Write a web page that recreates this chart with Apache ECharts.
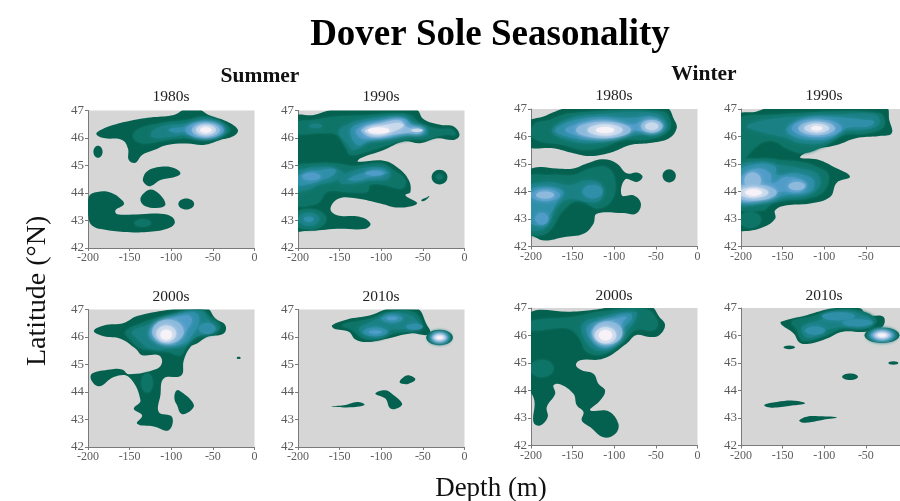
<!DOCTYPE html>
<html><head><meta charset="utf-8">
<style>html,body{margin:0;padding:0;background:#fff}#c{width:900px;height:501px;filter:blur(0.5px)}</style>
<script src="https://cdn.jsdelivr.net/npm/echarts@6/dist/echarts.min.js"></script>
</head><body><div id="c"></div>
<script>
// Contour shapes.
// [level, [x,y], [x,y], ...] is a contour polygon; [level, cx, cy, rx, ry] is a closed oval contour (depth m, latitude).
const depthTicks = [-200,-150,-100,-50,0];
const latitudeTicks = [42,43,44,45,46,47];
const levelColors = ['#05614f','#0f7468','#1a8084','#2f8fa8','#4f9cc8','#8cb9dc','#c8d9ec','#f7f2f8'];

const summer1980s = [
[1,[-190,46.15],[-183,46.32],[-169,46.48],[-149,46.63],[-121,46.76],[-97,46.84],[-83,47.05],[-67,47.05],[-55,46.84],[-33,46.6],[-20,46.3],[-25,46.07],[-41,45.93],[-61,45.75],[-81,45.8],[-105,45.75],[-121,45.56],[-135,45.38],[-143,45.1],[-151,45.2],[-152,45.62],[-159,45.93],[-181,46]],
[1,-188,45.5,5.5,.22],
[1,[-134,44.53],[-128,44.81],[-110,44.96],[-96,44.9],[-89,44.71],[-97,44.57],[-113,44.47],[-125,44.25],[-132,44.35]],
[1,[-125,44.13],[-115,43.98],[-107,43.59],[-115,43.46],[-131,43.52],[-137,43.74],[-134,43.96]],
[1,-82,43.6,9.5,.2],
[1,[-199,43.86],[-189,44.04],[-173,44.02],[-159,43.74],[-157,43.58],[-167,43.37],[-165,43.23],[-137,43.23],[-113,43.25],[-99,43.13],[-96,42.89],[-105,42.7],[-129,42.58],[-157,42.58],[-181,42.67],[-193,42.77],[-199,43.03]],
[2,-134.4,42.91,10,.14],
[2,[-146,46.11],[-137,46.36],[-113,46.54],[-81,46.66],[-61,46.78],[-37,46.54],[-29,46.27],[-41,46.05],[-61,45.93],[-81,45.98],[-105,45.93],[-129,45.8],[-141,45.87]],
[3,[-123,46.23],[-109,46.45],[-81,46.54],[-57,46.66],[-37,46.44],[-35,46.2],[-53,46.03],[-77,46.11],[-105,46.03],[-123,46.03]],
[4,[-103,46.32],[-77,46.44],[-57,46.56],[-41,46.44],[-38,46.23],[-57,46.08],[-77,46.23],[-97,46.2]],
[5,-60,46.29,23,.3],[6,-58.4,46.29,17,.24],[7,-58.4,46.29,12,.17],[8,-58.4,46.29,7,.1]
];
const summer1990s = [
[1,[-205,46.72],[-181,46.84],[-153,47.05],[-59,47.05],[-49,46.68],[-29,46.48],[-13,46.42],[-6,46.11],[-13,45.93],[-33,45.99],[-53,45.81],[-73,45.87],[-97,45.56],[-125,45.26],[-128,45.14],[-97,45.17],[-79,44.89],[-67,44.47],[-65,44.04],[-71,43.92],[-57,43.62],[-79,43.47],[-101,43.62],[-129,43.8],[-151,43.8],[-161,43.43],[-153,43.19],[-125,43.13],[-113,42.89],[-119,42.7],[-153,42.7],[-189,42.62],[-205,42.7]],
[1,-30,44.58,9.5,.27],
[1,[-52,43.75],[-45,43.85],[-42,43.9],[-45,43.78],[-50,43.7]],
[2,-30,44.58,4,.1],
[2,[-205,46.54],[-181,46.66],[-153,46.78],[-113,46.84],[-81,46.9],[-65,46.84],[-53,46.54],[-33,46.35],[-15,46.32],[-11,46.11],[-25,46.11],[-45,45.95],[-65,45.93],[-85,45.81],[-117,45.5],[-137,45.38],[-143,45.66],[-153,46.11],[-173,46.17],[-205,46.17]],
[2,[-205,44.89],[-177,45.08],[-155,45.08],[-133,44.98],[-101,45.08],[-85,44.83],[-71,44.47],[-75,44.16],[-97,44.29],[-113,44.29],[-117,44.04],[-145,44.04],[-165,44.04],[-177,43.62],[-205,43.62]],
[2,-187,43.05,21,.38],
[3,-187,43.05,13,.25],[4,-187,43.05,6,.1],
[3,-179,46.44,8,.08],
[3,[-151,46.23],[-137,46.54],[-113,46.72],[-77,46.78],[-61,46.54],[-45,46.35],[-45,46.11],[-65,46.11],[-85,45.99],[-113,45.87],[-133,45.56],[-141,45.8]],
[3,[-205,44.7],[-190,44.9],[-172,44.95],[-156,44.9],[-145,44.7],[-155,44.45],[-175,44.3],[-190,44.1],[-205,44.1]],
[3,[-150,44.55],[-130,44.85],[-105,44.95],[-90,44.8],[-92,44.5],[-115,44.45],[-135,44.35],[-148,44.35]],
[4,[-203,44.55],[-190,44.75],[-170,44.85],[-155,44.85],[-158,44.65],[-175,44.45],[-190,44.3],[-203,44.3]],
[4,[-140,44.5],[-120,44.75],[-100,44.85],[-92,44.72],[-110,44.6],[-130,44.45]],
[5,-184,44.6,11,.14],[5,-108,44.72,11,.09],
[4,[-137,46.29],[-125,46.54],[-97,46.66],[-73,46.72],[-63,46.48],[-47,46.32],[-51,46.15],[-69,46.15],[-89,46.03],[-113,45.93],[-129,45.75]],
[5,[-130,46.3],[-105,46.58],[-73,46.7],[-62,46.42],[-49,46.29],[-55,46.15],[-73,46.18],[-93,46.02],[-113,45.98],[-125,46]],
[6,[-124,46.3],[-101,46.54],[-77,46.64],[-69,46.4],[-53,46.27],[-65,46.2],[-91,46.1],[-113,46.05]],
[7,[-120,46.27],[-100,46.44],[-80,46.55],[-73,46.45],[-90,46.2],[-108,46.12]],
[7,-57,46.28,7,.07],
[8,-103,46.27,13,.11]
];
const summer2000s = [
[1,[-193,46.22],[-181,46.42],[-157,46.51],[-141,46.76],[-105,46.98],[-85,47.05],[-57,47.05],[-47,46.67],[-35,46.43],[-37,46.13],[-57,46],[-69,45.76],[-77,45.64],[-85,45.15],[-88,44.6],[-109,44.49],[-113,43.88],[-115,43.27],[-99,43.09],[-103,42.61],[-121,42.75],[-141,42.85],[-135,43.15],[-145,43.39],[-137,43.7],[-151,44.55],[-169,44.55],[-186,44.21],[-196,44.43],[-195,44.67],[-173,44.82],[-159,44.82],[-151,44.65],[-117,44.85],[-111,45.09],[-115,45.34],[-135,45.34],[-143,45.58],[-161,45.94],[-181,46.03]],
[1,[-95,44],[-91,44.06],[-73,43.55],[-79,43.27],[-88,43.21],[-93,43.52],[-96,43.72]],
[1,-19,45.24,2.4,.04],
[2,-129,44.33,7,.35],
[2,[-155,46.19],[-137,46.49],[-105,46.79],[-65,47],[-53,46.73],[-41,46.43],[-45,46.19],[-65,46.06],[-79,45.76],[-89,45.34],[-105,45.46],[-121,45.52],[-137,45.58],[-149,45.88]],
[3,[-147,46.19],[-129,46.43],[-101,46.76],[-65,46.95],[-53,46.55],[-45,46.31],[-57,46.13],[-71,46],[-83,45.7],[-101,45.58],[-125,45.58],[-141,45.94]],
[4,-57,46.31,10,.2],
[4,[-127,46.22],[-113,46.55],[-85,46.85],[-69,46.85],[-67,46.49],[-75,46.07],[-85,45.76],[-105,45.7],[-123,45.88]],
[5,[-121,46.25],[-109,46.55],[-81,46.79],[-75,46.61],[-83,46.19],[-95,45.82],[-109,45.79],[-119,46]],
[6,-104,46.2,19,.44],[7,-106,46.13,12,.3],[8,-106,46.08,7,.18]
];
const summer2010s = [
[1,[-159,46.43],[-141,46.64],[-113,46.79],[-89,47.05],[-57,47.05],[-45,46.43],[-41,46.19],[-45,46.07],[-65,46.13],[-93,45.94],[-117,45.82],[-131,45.91],[-139,46.19],[-157,46.31]],
[1,-30,45.98,16,.28],
[1,[-78,44.37],[-73,44.55],[-67,44.61],[-59,44.46],[-67,44.3],[-75,44.3]],
[1,[-107,43.94],[-95,44.06],[-85,43.88],[-75,43.58],[-79,43.43],[-89,43.4],[-95,43.76]],
[1,[-160,43.48],[-145,43.52],[-129,43.64],[-120,43.55],[-127,43.47],[-145,43.44]],
[2,[-147,46.43],[-113,46.67],[-89,46.91],[-61,46.91],[-51,46.43],[-61,46.25],[-85,46.13],[-101,45.94],[-121,45.94],[-135,46.25]],
[2,-30,45.98,14,.24],
[3,[-127,46.31],[-113,46.55],[-89,46.85],[-65,46.79],[-55,46.43],[-65,46.31],[-89,46.25],[-105,46.03],[-121,46.09]],
[3,-30,45.98,11.5,.19],
[4,-107,46.19,15,.16],[4,-87,46.67,13,.14],[4,-60,46.37,10,.11],[4,-30,45.98,10.5,.17],
[5,-30,45.98,9.5,.15],[5,-107,46.18,8,.07],[5,-87,46.68,7,.07],[6,-30,45.98,8.5,.13],[7,-30,45.98,6.5,.1],[8,-30,45.98,4,.06]
];
const winter1980s = [
[1,[-205,46.49],[-185,46.73],[-153,47.05],[-38,47.05],[-28,46.61],[-25,46.3],[-34,45.94],[-58,45.76],[-81,45.69],[-101,45.45],[-129,45.29],[-149,45.39],[-173,45.57],[-205,45.66]],
[1,[-205,44.66],[-193,44.88],[-169,44.84],[-149,44.84],[-133,45.02],[-113,45.17],[-97,45.02],[-85,44.66],[-73,44.69],[-66,44.54],[-73,44.35],[-87,44.44],[-91,43.86],[-77,43.86],[-68,43.56],[-74,43.19],[-89,43.22],[-121,43.19],[-125,42.83],[-137,42.46],[-161,42.34],[-183,42.22],[-195,42.34],[-205,42.58]],
[1,-34,44.57,8,.24],
[2,[-197,46.43],[-177,46.61],[-153,46.85],[-42,46.91],[-32,46.49],[-38,46.12],[-62,45.88],[-89,45.88],[-113,45.61],[-137,45.51],[-161,45.69],[-197,45.94]],
[2,[-205,44.47],[-177,44.6],[-149,44.6],[-129,44.84],[-109,44.88],[-99,44.41],[-103,43.68],[-121,43.38],[-141,43.68],[-161,43.32],[-177,42.58],[-189,42.4],[-205,42.52]],
[3,[-175,46.18],[-157,46.61],[-129,46.79],[-50,46.85],[-36,46.43],[-44,46.12],[-66,46.06],[-93,45.94],[-121,45.76],[-149,45.82]],
[3,[-205,44.11],[-181,44.35],[-153,44.23],[-133,44.41],[-115,44.23],[-117,43.68],[-133,43.62],[-153,43.74],[-169,43.44],[-179,42.83],[-189,42.58],[-205,42.7]],
[4,-126,44,12,.25],
[4,[-203,43.99],[-181,44.17],[-161,43.99],[-169,43.62],[-179,43.07],[-189,42.77],[-203,42.95]],
[4,[-171,46.22],[-153,46.55],[-121,46.71],[-81,46.67],[-54,46.73],[-40,46.43],[-48,46.18],[-74,46.18],[-97,46],[-125,45.88],[-149,45.94]],
[5,-183,43.87,18,.22],[5,-187,43.01,8,.22],
[5,[-159,46.24],[-133,46.55],[-109,46.61],[-81,46.43],[-58,46.61],[-44,46.37],[-54,46.18],[-81,46.22],[-101,46.02],[-133,45.98]],
[6,-183,43.87,11,.13],
[6,-113,46.24,33,.3],[6,-55,46.37,13,.23],
[7,-111,46.24,21,.21],[7,-55,46.37,8,.14],
[8,-111,46.24,11,.11]
];
const winter1990s = [
[1,[-205,46.71],[-181,46.91],[-165,47.05],[-26,47.05],[-22,46.61],[-19,46.12],[-34,46.02],[-62,45.94],[-85,45.69],[-113,45.51],[-129,45.24],[-109,45.17],[-89,44.9],[-69,44.54],[-85,44.32],[-93,43.8],[-117,43.56],[-145,43.5],[-159,43.32],[-159,43.01],[-173,42.71],[-195,42.56],[-205,42.64]],
[2,[-205,46.55],[-165,46.79],[-34,46.85],[-28,46.37],[-50,46.1],[-74,46.06],[-97,45.69],[-125,45.39],[-145,45.56],[-160,45.82],[-178,45.72],[-205,45]],
[2,[-205,45.02],[-177,45.2],[-153,45.15],[-129,45.08],[-109,44.9],[-95,44.6],[-101,43.99],[-121,43.74],[-145,43.68],[-163,43.56],[-173,43.32],[-205,43.44]],
[2,-189,42.97,13,.3],
[3,[-193,46.37],[-169,46.61],[-129,46.73],[-89,46.79],[-38,46.79],[-34,46.43],[-54,46.24],[-78,46.18],[-101,45.76],[-129,45.76],[-145,45.94],[-177,46.18]],
[3,[-205,44.84],[-177,45.08],[-153,44.96],[-129,44.84],[-109,44.66],[-105,44.23],[-121,43.86],[-149,43.74],[-173,43.56],[-205,43.56]],
[4,[-145,46.3],[-121,46.67],[-89,46.71],[-54,46.61],[-40,46.55],[-46,46.37],[-74,46.3],[-93,45.94],[-121,45.88],[-141,46.06]],
[4,[-205,44.66],[-181,45],[-159,44.9],[-157,44.6],[-133,44.66],[-113,44.41],[-117,43.99],[-145,43.87],[-169,43.68],[-205,43.68]],
[5,-109,46.3,30,.33],
[5,[-203,44.41],[-181,44.84],[-165,44.66],[-163,44.29],[-145,44.54],[-121,44.29],[-129,43.99],[-153,43.99],[-173,43.74],[-203,43.68]],
[6,-109,46.3,22,.25],[6,-185,43.96,28,.3],[6,-186,44.4,10,.3],[6,-133,44.2,10,.15],
[7,-109,46.3,15,.16],[7,-185,43.96,18,.19],
[8,-109,46.3,7,.08],[8,-185,43.96,10,.12]
];
const winter2000s = [
[1,[-205,46.71],[-149,46.87],[-121,46.95],[-97,47.05],[-56,47.05],[-46,46.68],[-39,46.38],[-46,46.01],[-58,45.95],[-74,46.01],[-85,45.71],[-113,45.16],[-141,45.1],[-146,44.92],[-139,44.74],[-125,44.61],[-119,44.25],[-111,44],[-117,43.64],[-129,43.28],[-107,43.25],[-95,42.79],[-99,42.42],[-113,42.3],[-129,42.67],[-139,42.91],[-137,43.22],[-145,43.46],[-149,43.88],[-165,44.23],[-173,44.19],[-171,43.88],[-181,43.4],[-180,43.03],[-189,42.73],[-197,42.85],[-196,43.64],[-205,44.25]],
[2,-187,44.8,14,.32],
[2,[-203,46.5],[-149,46.68],[-117,46.87],[-62,46.96],[-48,46.5],[-52,46.2],[-74,46.2],[-89,45.77],[-113,45.32],[-133,45.41],[-143,45.95],[-157,46.26],[-203,46.2]],
[3,[-139,46.38],[-117,46.68],[-74,46.87],[-74,46.62],[-85,46.14],[-95,45.71],[-113,45.44],[-131,45.65]],
[4,[-133,46.32],[-113,46.56],[-81,46.8],[-79,46.59],[-91,46.2],[-99,45.71],[-113,45.53],[-127,45.78]],
[5,[-127,46.2],[-109,46.5],[-85,46.68],[-91,46.44],[-97,45.95],[-111,45.65],[-123,45.83]],
[6,-108,46.1,18,.42],[7,-110.5,46.01,13,.3],[8,-110.5,46.01,8,.19]
];
const winter2010s = [
[1,[-152,46.5],[-121,46.74],[-89,46.99],[-57,46.99],[-49,46.74],[-29,46.68],[-30,46.32],[-50,46.14],[-78,46.14],[-97,45.89],[-113,45.73],[-129,45.73],[-137,46.08],[-151,46.38]],
[1,-30.6,46.01,21,.28],[1,-142,45.57,7,.07],[1,-17,45,6,.06],[1,-69,44.5,9.5,.12],
[1,[-172,43.48],[-157,43.58],[-137,43.63],[-123,43.54],[-137,43.46],[-157,43.38],[-169,43.4]],
[1,[-130,42.92],[-121,43.05],[-105,43.06],[-85,43.02],[-101,42.94],[-117,42.85],[-127,42.84]],
[2,[-139,46.5],[-117,46.68],[-89,46.9],[-57,46.9],[-37,46.56],[-49,46.26],[-78,46.26],[-97,46.01],[-117,45.83],[-127,45.83],[-133,46.2]],
[2,-30.6,46.01,19,.25],
[3,[-127,46.32],[-105,46.56],[-89,46.8],[-62,46.83],[-41,46.5],[-54,46.32],[-78,46.32],[-97,46.2],[-113,45.95],[-123,45.95]],
[3,-30.6,46.01,16,.21],
[4,-83,46.7,20,.15],[4,-60,46.46,18,.13],[4,-111,46.18,12,.15],[4,-30.6,46.01,14.5,.18],
[5,-30.6,46.01,13,.16],[6,-30.6,46.01,11,.13],[7,-30.6,46.01,8,.1],[8,-30.6,46.01,5,.06]
];

// name, shapes, left, top of each plot panel
const panels = [
 ['1980s',summer1980s,88,110.5,171,96],['1990s',summer1990s,298,110.5,381,96],
 ['2000s',summer2000s,88,309.5,171,296],['2010s',summer2010s,298,309.5,381,296],
 ['1980s',winter1980s,531,109,614,95],['1990s',winter1990s,741,109,824,95],
 ['2000s',winter2000s,531,308,614,295],['2010s',winter2010s,741,308,824,295]
];
const serif = '"Liberation Serif","Times New Roman",serif';
const grid=[],xAxis=[],yAxis=[],series=[],title=[];
panels.forEach((p,i)=>{
  const shapes=p[1].slice().sort((a,b)=>a[0]-b[0]);
  grid.push({left:p[2],top:p[3],width:166.5,height:137.5,show:true,backgroundColor:'#d6d6d6',borderWidth:0,outerBoundsMode:'none',containLabel:false});
  xAxis.push({type:'value',gridIndex:i,min:depthTicks[0],max:depthTicks[depthTicks.length-1],interval:50,splitLine:{show:false},
    axisLine:{show:true,onZero:false,lineStyle:{color:'#7a7a7a',width:1}},axisTick:{show:true,length:3,lineStyle:{color:'#7a7a7a'}},
    axisLabel:{color:'#5c5c5c',fontFamily:serif,fontSize:12,margin:4,hideOverlap:false,showMinLabel:true,showMaxLabel:true}});
  yAxis.push({type:'value',gridIndex:i,min:latitudeTicks[0],max:latitudeTicks[latitudeTicks.length-1],interval:1,splitLine:{show:false},
    axisLine:{show:true,onZero:false,lineStyle:{color:'#7a7a7a',width:1}},axisTick:{show:true,length:3,lineStyle:{color:'#7a7a7a'}},
    axisLabel:{color:'#5c5c5c',fontFamily:serif,fontSize:13,margin:4,hideOverlap:false,showMinLabel:true,showMaxLabel:true}});
  series.push({type:'custom',xAxisIndex:i,yAxisIndex:i,clip:true,silent:true,
    data:shapes.map((s,k)=>typeof s[1]==='number'?[s[1],s[2],k]:[s[1][0],s[1][1],k]),
    encode:{x:0,y:1},
    renderItem:(params,api)=>{
      const s=shapes[params.dataIndex],col=levelColors[s[0]-1];
      const style={fill:col};
      if(s[0]>1){style.shadowBlur=s[0]>2?5:3;style.shadowColor=col;}
      if(typeof s[1]==='number'){
        const c=api.coord([s[1],s[2]]),r=api.size([s[3],s[4]]);
        return {type:'ellipse',shape:{cx:c[0],cy:c[1],rx:r[0],ry:r[1]},style};
      }
      return {type:'polygon',shape:{points:s.slice(1).map(q=>api.coord(q)),smooth:0.4,smoothConstraint:false},style};
    }});
  title.push({text:p[0],left:p[4],top:p[5]-7,padding:0,textAlign:'center',textStyle:{fontFamily:serif,fontSize:15.5,fontWeight:'normal',color:'#222'}});
});
title.push({text:'Dover Sole Seasonality',left:490,top:17,padding:0,textAlign:'center',textStyle:{fontFamily:serif,fontSize:37,fontWeight:'bold',color:'#000'}});
title.push({text:'Summer',left:260,top:65,padding:0,textAlign:'center',textStyle:{fontFamily:serif,fontSize:21.5,fontWeight:'bold',color:'#111'}});
title.push({text:'Winter',left:704,top:63,padding:0,textAlign:'center',textStyle:{fontFamily:serif,fontSize:21.5,fontWeight:'bold',color:'#111'}});
title.push({text:'Depth (m)',left:491,top:475,padding:0,textAlign:'center',textStyle:{fontFamily:serif,fontSize:27,fontWeight:'normal',color:'#111'}});
const chart=echarts.init(document.getElementById('c'),null,{renderer:'canvas',width:900,height:501});
chart.setOption({animation:false,backgroundColor:'#fff',title,grid,xAxis,yAxis,series,
  graphic:[{type:'text',x:24,y:366,rotation:Math.PI/2,style:{text:'Latitude (°N)',font:'28px '+serif,fill:'#111'}}]});
</script></body></html>
